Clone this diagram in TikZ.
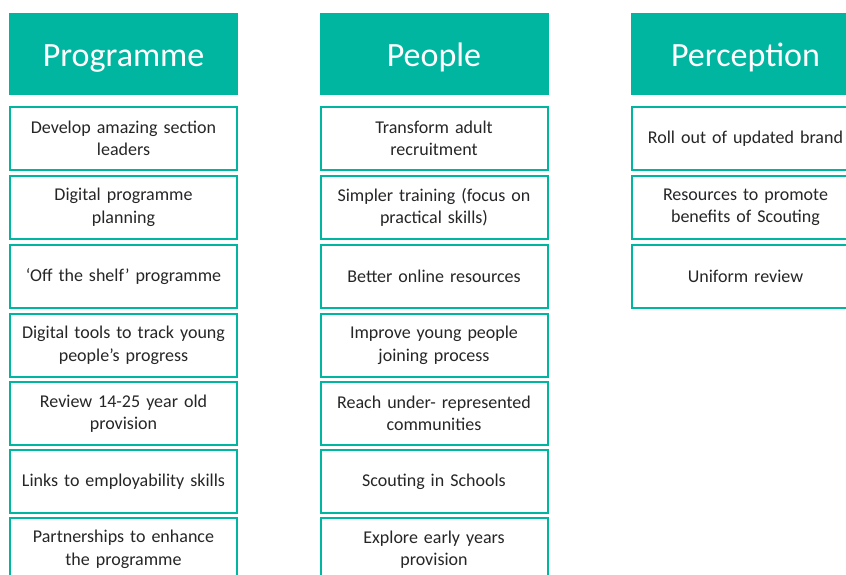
\documentclass[tikz,border=0pt]{standalone}
\usepackage{fontspec}
\setmainfont{Carlito}
\definecolor{scoutteal}{HTML}{00B6A1}
\definecolor{itemtext}{HTML}{262626}

\begin{document}
\begin{tikzpicture}[x=1pt,y=-1pt,
    head/.style={fill=scoutteal,draw=scoutteal,line width=0.5pt,minimum width=228pt,minimum height=81pt,
      inner sep=0pt,text height=24pt,text depth=0pt,text=white,font=\fontsize{34}{38}\selectfont},
    item/.style={draw=scoutteal,line width=2pt,fill=white,minimum width=227pt,minimum height=63pt,
      inner sep=0pt,text width=224pt,align=center,text=itemtext,font=\fontsize{18}{22.5}\selectfont}]
          \useasboundingbox (0,0) rectangle (846,574);
          \clip (0,0) rectangle (846,574);
          \fill[white] (0,0) rectangle (846,574);
          % Programme
          \node[head] (prog) at (123.5,54) {Programme};
          \node[item] (prog1) at (123.5,138.5) {Develop amazing section\\leaders};
          \node[item] (prog2) at (123.5,207.5) {Digital programme\\planning};
          \node[item] (prog3) at (123.5,276.5) {‘Off the shelf’ programme};
          \node[item] (prog4) at (123.5,345.5) {Digital tools to track young\\people’s progress};
          \node[item] (prog5) at (123.5,413.5) {Review 14-25 year old\\provision};
          \node[item] (prog6) at (123.5,481.5) {Links to employability skills};
          \node[item] (prog7) at (123.5,549.5) {Partnerships to enhance\\the programme};
          % People
          \node[head] (peop) at (434,54) {People};
          \node[item] (peop1) at (434,138.5) {Transform adult\\recruitment};
          \node[item] (peop2) at (434,207.5) {Simpler training (focus on\\practical skills)};
          \node[item] (peop3) at (434,276.5) {Better online resources};
          \node[item] (peop4) at (434,345.5) {Improve young people\\joining process};
          \node[item] (peop5) at (434,413.5) {Reach under- represented\\communities};
          \node[item] (peop6) at (434,481.5) {Scouting in Schools};
          \node[item] (peop7) at (434,549.5) {Explore early years\\provision};
          % Perception
          \node[head] (perc) at (745.5,54) {Perception};
          \node[item] (perc1) at (745.5,138.5) {Roll out of updated brand};
          \node[item] (perc2) at (745.5,207.5) {Resources to promote\\benefits of Scouting};
          \node[item] (perc3) at (745.5,276.5) {Uniform review};
        \end{tikzpicture}
\end{document}
